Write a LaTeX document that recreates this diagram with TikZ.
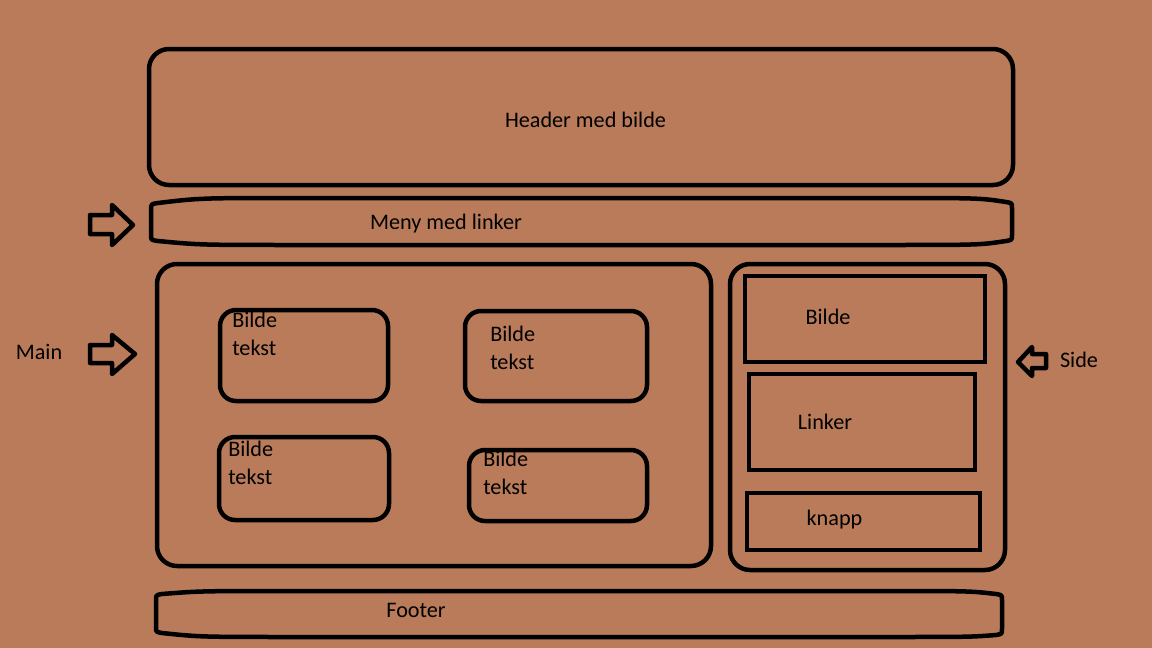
\documentclass[tikz,border=0pt]{standalone}
\usepackage{fontspec}
\setmainfont{Carlito}
\definecolor{bg}{HTML}{B97B5A}
\begin{document}
\begin{tikzpicture}[x=1pt,y=-1pt,
  line width=4.5pt, line join=round,
  txt/.style={inner sep=0pt, anchor=base, font=\fontsize{22.2}{28}\selectfont, text=black},
  card/.style={inner sep=0pt, anchor=north west, align=left, font=\fontsize{22.2}{28}\selectfont, text=black},
]
\fill[bg] (0,0) rectangle (1152,648);
\useasboundingbox (0,0) rectangle (1152,648);

% header
\draw[rounded corners=20pt] (149,49) rectangle (1013,185);
\node[txt] (htxt) at (585.5,127) {Header med bilde};

% menu bar
\draw (300,198) -- (880,198) .. controls (980,198) .. (1006,202)
  .. controls (1012,203) .. (1012,208) -- (1012,235)
  .. controls (1012,240) .. (1006,241) .. controls (980,245) .. (880,245)
  -- (300,245) .. controls (200,245) .. (158,241)
  .. controls (151,240) .. (151,235) -- (151,210)
  .. controls (151,204) .. (158,203) .. controls (200,198) .. (300,198) -- cycle;
\node[txt] (mtxt) at (446,229) {Meny med linker};

% main container
\draw[rounded corners=20pt] (157,264) rectangle (711,566);
% cards
\draw[rounded corners=16pt] (220,310) rectangle (388,401);
\draw[rounded corners=16pt] (465,311) rectangle (647,401);
\draw[rounded corners=16pt] (219,437) rectangle (389,520);
\draw[rounded corners=16pt] (469,450) rectangle (647,521);
\node[card] (c1) at (230,310) {Bilde\\tekst};
\node[card] (c2) at (488,324) {Bilde\\tekst};
\node[card] (c3) at (226,439) {Bilde\\tekst};
\node[card] (c4) at (481,449) {Bilde\\tekst};

% side container
\draw[rounded corners=20pt] (730,264) rectangle (1005,570);
\draw[line join=miter] (745,276) rectangle (985,362);
\draw[line join=miter] (749,374) rectangle (975,470);
\draw[line join=miter] (747,493) rectangle (980,550);
\node[txt] (sb) at (828,324) {Bilde};
\node[txt] (sl) at (825,429) {Linker};
\node[txt] (sk) at (834.5,525) {knapp};

% footer
\draw (300,591) -- (880,591) .. controls (970,591) .. (996,594)
  .. controls (1002,595) .. (1002,600) -- (1002,629)
  .. controls (1002,634) .. (996,635) .. controls (970,637) .. (880,637)
  -- (300,637) .. controls (200,637) .. (162,633)
  .. controls (156,632) .. (156,627) -- (156,600)
  .. controls (156,595) .. (162,594) .. controls (200,591) .. (300,591) -- cycle;
\node[txt] (ftxt) at (416,617) {Footer};

% arrows
\draw (90,215) -- (112,215) -- (112,205) -- (133,225) -- (112,245) -- (112,234) -- (90,234) -- cycle;
\draw (90,345) -- (112,345) -- (112,335) -- (135,354) -- (112,374) -- (112,363) -- (90,363) -- cycle;
\draw (1046,354) -- (1032,354) -- (1032,347) -- (1018,362) -- (1032,376) -- (1032,368) -- (1046,368) -- cycle;
\node[txt] (mainlbl) at (39,359) {Main};
\node[txt] (sidelbl) at (1079,367) {Side};
\end{tikzpicture}
\end{document}
